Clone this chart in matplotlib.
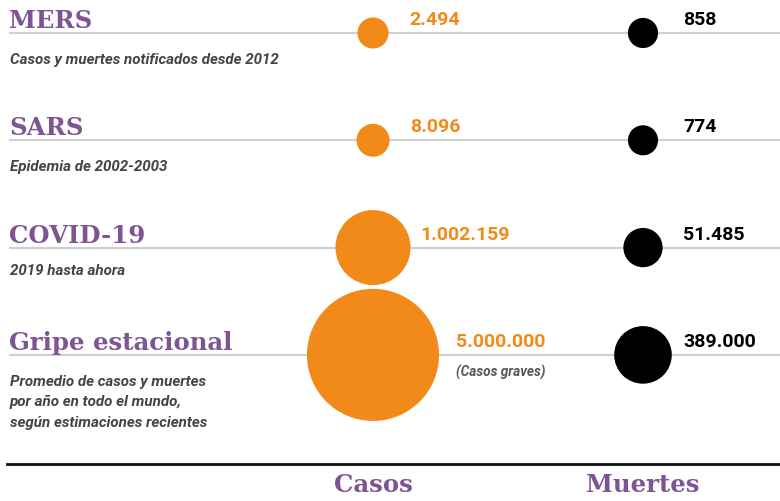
import matplotlib
matplotlib.use("Agg")
import matplotlib.pyplot as plt
import numpy as np

enfermedades = ["MERS", "SARS", "COVID-19", "Gripe estacional"]
subtitulos = ["Casos y muertes notificados desde 2012",
              "Epidemia de 2002-2003",
              "2019 hasta ahora",
              "Promedio de casos y muertes\npor año en todo el mundo,\nsegún estimaciones recientes"]
casos = [2494, 8096, 1002159, 5000000]
muertes = [858, 774, 51485, 389000]
casos_txt = ["2.494", "8.096", "1.002.159", "5.000.000"]
muertes_txt = ["858", "774", "51.485", "389.000"]

morado = "#7E5592"
naranja = "#F28A1A"
gris = "#444444"

def radio(v):
    # pixel radius: minimum size plus sqrt scale
    return 14.4 + 0.0231 * np.sqrt(np.array(v, dtype=float))

fig = plt.figure(figsize=(7.8, 5.02), dpi=100)
ax = fig.add_axes([0, 0, 1, 1])
ax.set_xlim(0, 780)
ax.set_ylim(502, 0)
ax.axis("off")

x_casos = 373
x_muertes = 643
filas = 34 + 107.3 * np.arange(len(enfermedades))

for i, y in enumerate(filas):
    ax.plot([10, 780], [y, y], color="#d0d0d0", lw=1.5, zorder=1)
    ax.text(9, y - 6, enfermedades[i], family="DejaVu Serif", weight="heavy",
            fontsize=17.6, color=morado, va="baseline", ha="left")
    off = 24 if i != 2 else 20
    ax.text(10, y + off - 5, subtitulos[i], family="Roboto", style="italic",
            weight="bold", fontsize=10.9, color=gris, va="top", ha="left",
            linespacing=1.6)

r_c = radio(casos)
r_m = radio(muertes)
ax.scatter([x_casos] * 4, filas, s=(2 * r_c * 0.72) ** 2, color=naranja,
           edgecolors="none", zorder=3)
ax.scatter([x_muertes] * 4, filas, s=(2 * r_m * 0.72) ** 2, color="black",
           edgecolors="none", zorder=3)

gaps = [21, 21, 10, 17]
for i, y in enumerate(filas):
    ax.text(x_casos + r_c[i] + gaps[i], y - 14, casos_txt[i], family="Roboto",
            weight="bold", fontsize=14, color=naranja, va="center", ha="left")
    ax.text(683, y - 14, muertes_txt[i], family="Roboto",
            weight="bold", fontsize=14, color="black", va="center", ha="left")

ax.text(x_casos + r_c[3] + 17, filas[3] + 17, "(Casos graves)", family="Roboto",
        style="italic", weight="bold", fontsize=9.8, color="#555555",
        va="center", ha="left")

ax.plot([7, 780], [465, 465], color="#111111", lw=2, zorder=1)
ax.text(x_casos, 485, "Casos", family="DejaVu Serif", weight="bold",
        fontsize=17.6, color=morado, ha="center", va="center")
ax.text(x_muertes, 485, "Muertes", family="DejaVu Serif", weight="bold",
        fontsize=17.6, color=morado, ha="center", va="center")

fig.savefig("out.png", dpi=100)
